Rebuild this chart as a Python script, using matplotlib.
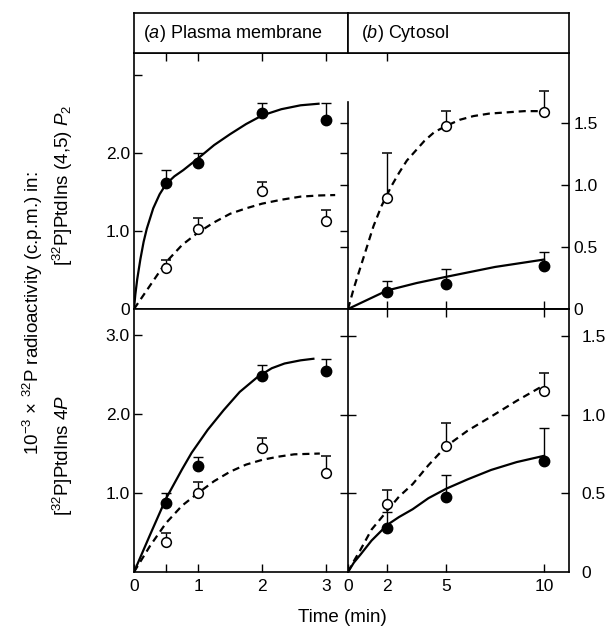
import numpy as np
import matplotlib
matplotlib.use('Agg')
import matplotlib.pyplot as plt

plt.rcParams['font.family'] = ['Liberation Sans', 'DejaVu Sans']
plt.rcParams['mathtext.fontset'] = 'custom'
plt.rcParams['mathtext.rm'] = 'Liberation Sans'
plt.rcParams['mathtext.it'] = 'Liberation Sans:italic'

# sampling times (min)
t_pm = [0.5, 1, 2, 3]
t_cyt = [2, 5, 10]

# (a) plasma membrane, PtdIns(4,5)P2
pm_p2_filled = [1.62, 1.87, 2.51, 2.42]
pm_p2_filled_err = [0.16, 0.13, 0.13, 0.22]
pm_p2_open = [0.53, 1.03, 1.51, 1.13]
pm_p2_open_err = [0.10, 0.14, 0.12, 0.14]
pm_p2_solid_t = [0, 0.02, 0.05, 0.1, 0.15, 0.2, 0.3, 0.4, 0.5, 0.63, 0.77, 1.0,
                 1.25, 1.5, 1.75, 2.0, 2.3, 2.6, 2.88]
pm_p2_solid_y = [0, 0.18, 0.38, 0.64, 0.86, 1.03, 1.29, 1.47, 1.6, 1.7, 1.78, 1.93,
                 2.1, 2.24, 2.37, 2.48, 2.56, 2.61, 2.63]
pm_p2_dash_t = [0, 0.25, 0.5, 0.75, 1.0, 1.25, 1.5, 1.75, 2.0, 2.3, 2.6, 2.9, 3.14]
pm_p2_dash_y = [0, 0.3, 0.6, 0.82, 0.98, 1.11, 1.22, 1.29, 1.35, 1.4, 1.44, 1.455, 1.46]

# (b) cytosol, PtdIns(4,5)P2
cyt_p2_open = [0.90, 1.48, 1.59]
cyt_p2_open_err = [0.36, 0.12, 0.17]
cyt_p2_filled = [0.14, 0.20, 0.35]
cyt_p2_filled_err = [0.09, 0.12, 0.11]
cyt_p2_dash_t = [0, 0.3, 0.66, 1.0, 1.3, 1.7, 2.2, 2.6, 3.0, 3.9, 4.4, 5.0, 5.7,
                 6.4, 7.2, 8.1, 9.0, 10.1]
cyt_p2_dash_y = [0, 0.17, 0.35, 0.52, 0.67, 0.83, 0.99, 1.1, 1.2, 1.36, 1.43, 1.48,
                 1.53, 1.56, 1.58, 1.59, 1.6, 1.6]
cyt_p2_solid_t = [0, 2, 3.5, 5, 7.5, 10]
cyt_p2_solid_y = [0, 0.15, 0.21, 0.26, 0.34, 0.40]

# (a) plasma membrane, PtdIns4P
pm_4p_filled = [0.87, 1.34, 2.48, 2.54]
pm_4p_filled_err = [0.13, 0.12, 0.14, 0.16]
pm_4p_open = [0.38, 1.0, 1.57, 1.25]
pm_4p_open_err = [0.12, 0.14, 0.13, 0.22]
pm_4p_solid_t = [0, 0.25, 0.5, 0.75, 0.9, 1.15, 1.4, 1.65, 1.93, 2.15, 2.35, 2.6, 2.8]
pm_4p_solid_y = [0, 0.47, 0.93, 1.3, 1.51, 1.8, 2.05, 2.28, 2.47, 2.58, 2.64, 2.68, 2.70]
pm_4p_dash_t = [0, 0.25, 0.5, 0.75, 1.0, 1.25, 1.5, 1.75, 2.0, 2.25, 2.5, 2.9]
pm_4p_dash_y = [0, 0.33, 0.62, 0.84, 1.0, 1.15, 1.27, 1.36, 1.42, 1.46, 1.49, 1.5]

# (b) cytosol, PtdIns4P
cyt_4p_open = [0.43, 0.80, 1.15]
cyt_4p_open_err = [0.09, 0.15, 0.12]
cyt_4p_filled = [0.28, 0.48, 0.71]
cyt_4p_filled_err = [0.10, 0.14, 0.21]
cyt_4p_dash_t = [0, 0.3, 0.63, 1.2, 2, 2.6, 3.3, 4.1, 5, 6.1, 7.3, 8.6, 10]
cyt_4p_dash_y = [0, 0.07, 0.14, 0.27, 0.39, 0.48, 0.56, 0.68, 0.80, 0.9, 0.99, 1.09, 1.19]
cyt_4p_solid_t = [0, 0.3, 0.63, 1.2, 2, 2.6, 3.3, 4.1, 5, 6.1, 7.3, 8.6, 10]
cyt_4p_solid_y = [0, 0.06, 0.11, 0.2, 0.30, 0.35, 0.40, 0.47, 0.53, 0.59, 0.65, 0.70, 0.74]

W, H = 605, 634
fig = plt.figure(figsize=(W / 100, H / 100), dpi=100)


def box(x0, y0, x1, y1):
    # pixel box -> figure fraction
    return [x0 / W, 1 - y1 / H, (x1 - x0) / W, (y1 - y0) / H]


ax1 = fig.add_axes(box(134, 53, 348, 309))
ax2 = fig.add_axes(box(348, 53, 569, 309))
ax3 = fig.add_axes(box(134, 309, 348, 572))
ax4 = fig.add_axes(box(348, 309, 569, 572))
hd1 = fig.add_axes(box(134, 13, 348, 53))
hd2 = fig.add_axes(box(348, 13, 569, 53))

LW = 1.6
FS = 12.5
TL = 6


def draw(ax, t, filled, ferr, opn, oerr, st, sy, dt, dy):
    ax.plot(st, sy, color='black', lw=LW, solid_joinstyle='round', zorder=2)
    ax.plot(dt, dy, color='black', lw=LW, ls=(0, (3.2, 2.2)), zorder=2)
    ax.errorbar(t, filled, yerr=[[0] * len(t), ferr], fmt='o', color='black',
                ms=7.5, mfc='black', mec='black', ecolor='black',
                elinewidth=1.0, capsize=3.5, capthick=1.0, zorder=3)
    ax.errorbar(t, opn, yerr=[[0] * len(t), oerr], fmt='o', color='black',
                ms=7, mfc='white', mec='black', mew=1.1, ecolor='black',
                elinewidth=1.0, capsize=3.5, capthick=1.0, zorder=3)


draw(ax1, t_pm, pm_p2_filled, pm_p2_filled_err, pm_p2_open, pm_p2_open_err,
     pm_p2_solid_t, pm_p2_solid_y, pm_p2_dash_t, pm_p2_dash_y)
draw(ax2, t_cyt, cyt_p2_filled, cyt_p2_filled_err, cyt_p2_open, cyt_p2_open_err,
     cyt_p2_solid_t, cyt_p2_solid_y, cyt_p2_dash_t, cyt_p2_dash_y)
draw(ax3, t_pm, pm_4p_filled, pm_4p_filled_err, pm_4p_open, pm_4p_open_err,
     pm_4p_solid_t, pm_4p_solid_y, pm_4p_dash_t, pm_4p_dash_y)
draw(ax4, t_cyt, cyt_4p_filled, cyt_4p_filled_err, cyt_4p_open, cyt_4p_open_err,
     cyt_4p_solid_t, cyt_4p_solid_y, cyt_4p_dash_t, cyt_4p_dash_y)

for ax in (ax1, ax2, ax3, ax4):
    for s in ax.spines.values():
        s.set_linewidth(1.2)
    ax.tick_params(labelsize=FS, length=TL, width=1.0, direction='in')

# top-left
ax1.set_xlim(0, 3.34)
ax1.set_ylim(0, 3.28)
ax1.spines['right'].set_visible(False)
ax1.set_yticks([0, 1, 2, 3])
ax1.set_yticklabels(['0', '1.0', '2.0', ''])
ax1.tick_params(axis='y', right=True, pad=3)
ax1.yaxis.get_major_ticks()[3].tick2line.set_visible(False)
ax1.yaxis.get_major_ticks()[0].tick2line.set_visible(False)
ax1.set_xticks([0.5, 1, 2, 3])
ax1.tick_params(axis='x', top=True, bottom=False, labelbottom=False)

# top-right
ax2.set_xlim(0, 11.27)
ax2.set_ylim(0, 2.07)
ax2.spines['left'].set_bounds(0, 1.67)
ax2.set_yticks([0, 0.5, 1.0, 1.5])
ax2.set_yticklabels(['0', '0.5', '1.0', '1.5'])
ax2.tick_params(axis='y', left=True, right=True, labelleft=False,
                labelright=True, pad=3)
ax2.yaxis.get_major_ticks()[0].tick1line.set_visible(False)
ax2.yaxis.get_major_ticks()[0].tick2line.set_visible(False)
ax2.set_xticks([2])
ax2.tick_params(axis='x', top=True, bottom=False, labelbottom=False)
for tk in ax2.yaxis.get_major_ticks():
    tk.tick1line.set_marker(matplotlib.lines.TICKLEFT)

# bottom-left
ax3.set_xlim(0, 3.34)
ax3.set_ylim(0, 3.33)
ax3.spines['right'].set_visible(False)
ax3.set_yticks([1, 2, 3])
ax3.set_yticklabels(['1.0', '2.0', '3.0'])
ax3.tick_params(axis='y', pad=3)
ax3.set_xticks([0, 0.5, 1, 2, 3])
ax3.set_xticklabels(['0', '', '1', '2', '3'])
ax3.tick_params(axis='x', pad=5)

# bottom-right
ax4.set_xlim(0, 11.27)
ax4.set_ylim(0, 1.675)
ax4.set_yticks([0, 0.5, 1.0, 1.5])
ax4.set_yticklabels(['0', '0.5', '1.0', '1.5'])
ax4.tick_params(axis='y', left=True, right=True, labelleft=False,
                labelright=True, pad=3)
ax4.tick_params(axis='y', which='major', direction='inout', length=2 * TL)
ax4.yaxis.get_major_ticks()[0].tick1line.set_visible(False)
ax4.yaxis.get_major_ticks()[0].tick2line.set_visible(False)
for tk in ax4.yaxis.get_major_ticks():
    tk.tick2line.set_marker(matplotlib.lines.TICKLEFT)
    tk.tick2line.set_markersize(TL)
ax4.set_xticks([0, 2, 5, 10])
ax4.set_xticklabels(['0', '2', '5', '10'])
ax4.tick_params(axis='x', pad=5)
sec = ax4.secondary_xaxis('top')
sec.set_xticks([2, 5, 10])
sec.tick_params(direction='inout', length=2 * TL, width=1.0, labeltop=False)
sec.spines['top'].set_linewidth(1.2)

# headers
for hd, label, x in ((hd1, r'($\mathit{a}$) Plasma membrane', 0.04),
                     (hd2, r'($\mathit{b}$) Cytosol', 0.06)):
    hd.set_xticks([])
    hd.set_yticks([])
    for s in hd.spines.values():
        s.set_linewidth(1.2)
    hd.text(x, 0.5, label, transform=hd.transAxes,
            fontsize=13, va='center', ha='left')

fig.text(342 / W, 1 - 617 / H, 'Time (min)', ha='center', va='center', fontsize=13.5)
fig.text(33 / W, 1 - 313 / H, r'10$^{-3}$ × $^{32}$P radioactivity (c.p.m.) in:',
         rotation=90, ha='center', va='center', fontsize=13.5)
fig.text(63 / W, 1 - 185 / H, r'[$^{32}$P]PtdIns (4,5) $\mathit{P}_2$',
         rotation=90, ha='center', va='center', fontsize=13.5)
fig.text(63 / W, 1 - 455 / H, r'[$^{32}$P]PtdIns 4$\mathit{P}$',
         rotation=90, ha='center', va='center', fontsize=13.5)

fig.savefig('out.png', dpi=100)
